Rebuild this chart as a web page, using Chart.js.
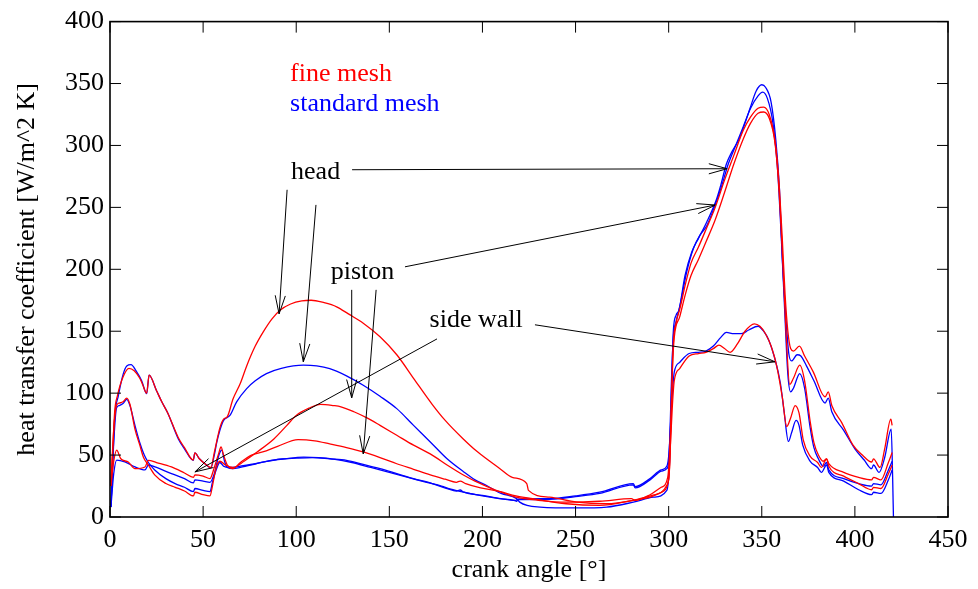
<!DOCTYPE html>
<html>
<head>
    <title>Heat transfer coefficient vs crank angle</title>
    <script src="https://cdn.jsdelivr.net/npm/chart.js"></script>
    <style>
        body { margin: 0; background: #fff; }
    </style>
</head>
<body>
    <canvas id="htcChart" width="978" height="589"></canvas>

    <script>
        // [crank angle, heat transfer coefficient]
        var headFine = [[0.5,25],[1.5,55],[2.5,85],[4,98],[7,113],[10.2,120],[13,118],[16,112],[17.5,107],[19.7,100],[21,114.5],[25,102],[27.8,93],[31,84],[36.7,64],[40,56],[44.7,46],[45.6,51.7],[48,47],[51,43],[54.2,40],[56,52],[57.3,61],[59,72],[61,79],[63,81],[66,95],[70,108],[73.4,122],[78,138],[82.3,149.5],[87,160],[91.3,167],[97,172],[103,174.5],[108,175],[115,173],[121.7,169.7],[128,164],[136,156.5],[145,145.5],[154,131],[163,112],[173,91],[180,78],[189.7,63],[197,53],[209.4,39],[216,32],[223.8,27],[224.7,21.5],[236,16],[250.6,12],[266.7,10.7],[281,13.5],[291.6,17.6],[299,25.6],[300.5,40],[301.5,90],[302.5,140],[304,157],[306,168],[309,188],[312,205],[316,218],[320,232],[325,250],[330,272],[335,292],[340,312],[344,323],[348,330],[351,331],[354,325],[357,305],[359,275],[361,225],[362.5,180],[364,150],[365.5,136],[367,134],[370.2,138],[373,130],[377.7,117],[384,97],[385.7,101],[387.6,90],[393,76],[399,58],[404,50],[409,44.4],[410,47],[413.5,40],[416,55],[419.3,79],[420,74]];
        var headStd = [[0.5,8],[1.5,45],[2.5,80],[4.5,98],[7,115],[9,122],[11.3,123],[14,118],[17,110],[19.7,99.6],[21,114.5],[25,102],[27.8,93],[31,84],[36.7,63],[40,55],[44.7,45.8],[45.6,51.7],[48,47],[51,43],[54.2,39.6],[56,50],[57.3,60],[59,70],[61,78],[64.4,82],[68,93],[73.4,103.7],[78,110],[84,115.8],[92,120],[103.8,122.6],[111,122],[118,119.8],[127,114],[136,106.4],[145,97.5],[154,87.5],[163,74],[172,60.6],[181,47],[190,36.4],[196,30],[202,25.6],[210,19],[218.4,14.8],[220,12],[231,8],[250.6,7.3],[266.7,8],[281,12],[291.8,16],[299,21.5],[300.5,45],[301.5,100],[302.5,150],[304,163],[305.5,167],[308.8,195],[312.4,214],[316,225],[320.4,238],[325.8,257],[328,268],[331,285],[334,295],[338,305.7],[341,318],[343.7,330],[347,344],[350,349],[352,347],[355,335],[357.5,305],[359.5,265],[361,210],[363,160],[364.5,132],[366,126],[369,131],[371,130],[374,122],[378,110],[384,92],[385.7,96],[387.6,85],[394,70],[400,55],[405,46],[409,39],[410,42],[413,36],[416,48],[419.5,71],[420.3,30],[420.7,0]];
        var pistonFine = [[0.5,28],[2,70],[3.5,90],[5,92],[7,93],[9,96],[10.7,91],[13.4,71],[16,58],[18,48],[20.6,42],[24,34],[30,27],[35,24],[40,21],[44.8,17],[45.6,20],[50,18],[53.7,17],[55,25],[57,40],[59,45],[62,42],[66,40],[72,45],[79,52.5],[88,63],[95,74],[100,82],[107,88],[113,91],[120,90],[124,89],[131,85],[138,80],[145,74],[154,66],[163,58],[173,50],[181,42],[190,33.7],[196,29],[201,25.6],[210,20],[218,16],[230,13.5],[245,12],[263,12.7],[280,14.8],[282,13.5],[290,18],[296,24],[299.5,32],[301,70],[302,120],[303,145],[306,162],[309,180],[312,195],[316,208],[320,222],[325,240],[330,262],[335,285],[340,305],[344,318],[348,326],[351,327],[354,322],[357,303],[359,270],[361,215],[363,150],[365,107],[367,112],[370.4,122.6],[373,110],[376,77],[378,60],[380.4,50],[383,45],[384.8,47],[386,43],[394,36],[402,32],[409,30],[410,32],[414,30],[418,44],[420,52]];
        var pistonStd = [[0.5,8],[2,60],[3.5,88],[5,90],[7,91.6],[9,95],[10.7,90],[13.4,74],[16,60],[18.4,50],[20.6,44],[24,38],[30,31],[35,27],[40,24],[44.8,20.5],[45.6,23],[50,21.5],[53.7,20.5],[55,28],[57,38],[59,44],[61,41],[64,40],[70,41],[78,43],[90,46.5],[100,47.5],[109,48],[118,47],[127,45.8],[136,42.5],[145,39],[154,35],[163,31],[173,27],[181,23],[186,21],[188,21.8],[190,20],[200,17.5],[210,14.8],[218,13.5],[219,14.5],[236,14.8],[250,17],[263,20],[281,27],[282,24.5],[290,31],[296,38],[299,41],[300.5,60],[301.5,110],[302.5,145],[304,158],[306,170],[309.7,198],[313.3,216.8],[317,228],[320.4,235],[324,248],[328,265],[332,285],[336,300],[340,315],[344,330],[348,340],[350.5,343],[353,338],[356,318],[358.5,280],[360.5,225],[362.5,160],[364,115],[365.5,101],[367,104],[370.4,115.8],[373,104],[376,72],[378,56],[380.4,47],[383,41],[384.8,44],[386,38],[394,31],[402,27],[409,25],[410,27],[414,26],[418,38],[420,45]];
        var wallFine = [[0.5,25],[2,45],[3.6,54],[5.8,47],[9.8,44.4],[13.4,39],[18.8,40.4],[20.6,45.8],[25,44],[33,40.4],[40,35.5],[44.8,32],[45.6,34],[50,33],[53.7,31],[56,40],[58.5,52],[59.6,56.6],[61,50],[63,42],[66,39],[70,44],[76,50],[82,52.5],[90,57],[101,62.5],[110,61.5],[118,59],[127,56],[136,52.5],[145,48],[154,43],[163,38.5],[172,34],[180,30.5],[186,28],[188,29],[191,27],[199,23.5],[209,20.7],[218,17],[227,14.8],[245,10.7],[263,9.4],[281,13.5],[290,16],[296,20],[300,30],[301,60],[302,90],[303,110],[306,120],[311,130],[316,132],[320,133],[324,136],[327,138.7],[330,136],[333,133],[337,140],[341,150],[346,156],[349,154],[352,148],[355,138],[358,122],[361,97],[363.4,73],[365.5,80],[367.9,90],[370,84],[372.3,62],[376,49],[380,44],[382,40],[384.8,47],[386,41],[394,33],[402,27],[409,22],[410,24],[414,23],[418,35],[420,42]];
        var wallStd = [[0.5,8],[2,35],[3.6,46],[8,44.5],[13.4,40.4],[18.8,38],[20.6,42],[25,40],[33,35],[40,31],[44.8,27.5],[45.6,30],[50,29],[53.7,28],[56,35],[58.5,50],[60,54],[61.5,45],[63,40],[66,39],[70,40],[76,42],[84,45],[94,47],[104,48.3],[112,48],[120,46.8],[130,44],[140,40],[150,36],[160,32],[170,28],[178,25],[183,22.5],[190,20],[200,17],[209,14.8],[217,13.5],[218.4,12.7],[219,14],[236,14.3],[250,16.5],[263,19],[281,26],[282,23.5],[290,30],[296,37],[299,39],[300,45],[301,75],[302,100],[303,117],[306,125],[311,132],[316,133],[320,134],[324,138],[328,145],[331,149],[335,148],[339,148],[343,151],[348,154],[351,150],[354,142],[357,128],[360,108],[362,85],[364.3,61],[366,68],[368.4,78],[370,74],[372,58],[376,45],[380,40],[382,36],[384.8,42],[386,36],[394,29],[402,22],[409,18],[410,20],[414,19],[418,30],[420,38]];

        var xTicks = [0, 50, 100, 150, 200, 250, 300, 350, 400, 450];
        var yTicks = [0, 50, 100, 150, 200, 250, 300, 350, 400];

        // annotation arrows, in data coordinates: [from, to]
        var arrows = [
            [[95.1, 264.2], [90.8, 164]],
            [[110.6, 252], [103.8, 125.3]],
            [[130, 280.4], [331.4, 281.2]],
            [[129.8, 183.4], [129.8, 96.2]],
            [[142.9, 183.4], [136, 50.9]],
            [[158.4, 202], [325, 251.9]],
            [[175.6, 143.8], [45.6, 36.4]],
            [[228.2, 155.2], [357.1, 125.3]]
        ];
        var labels = [
            { text: 'head', x: 110.4, y: 278.8, align: 'center', color: '#000' },
            { text: 'piston', x: 135.6, y: 198, align: 'center', color: '#000' },
            { text: 'side wall', x: 196.6, y: 159.2, align: 'center', color: '#000' },
            { text: 'fine mesh', x: 96.7, y: 357.2, align: 'left', color: '#ff0000' },
            { text: 'standard mesh', x: 96.7, y: 333, align: 'left', color: '#0000ff' }
        ];

        var RED = '#ff0000';
        var BLUE = '#0000ff';
        var FONT = '"Liberation Serif", "Times New Roman", serif';

        function toPoints(arr) {
            return arr.map(function (p) { return { x: p[0], y: p[1] }; });
        }

        function line(ctx, x1, y1, x2, y2) {
            ctx.beginPath();
            ctx.moveTo(x1, y1);
            ctx.lineTo(x2, y2);
            ctx.stroke();
        }

        // gnuplot-like frame, inward ticks on all sides, arrows and labels
        var gnuplotDecor = {
            id: 'gnuplotDecor',
            afterDatasetsDraw: function (chart) {
                var ctx = chart.ctx;
                var a = chart.chartArea;
                var xs = chart.scales.x, ys = chart.scales.y;
                ctx.save();
                ctx.strokeStyle = '#000';

                ctx.lineWidth = 1;
                xTicks.forEach(function (v) {
                    var px = xs.getPixelForValue(v);
                    line(ctx, px, a.bottom, px, a.bottom - 11);
                    line(ctx, px, a.top, px, a.top + 11);
                });
                yTicks.forEach(function (v) {
                    var py = ys.getPixelForValue(v);
                    line(ctx, a.left, py, a.left + 11, py);
                    line(ctx, a.right, py, a.right - 11, py);
                });

                ctx.lineWidth = 1.6;
                ctx.strokeRect(a.left, a.top, a.right - a.left, a.bottom - a.top);

                ctx.lineWidth = 1;
                arrows.forEach(function (ar) {
                    var x1 = xs.getPixelForValue(ar[0][0]), y1 = ys.getPixelForValue(ar[0][1]);
                    var x2 = xs.getPixelForValue(ar[1][0]), y2 = ys.getPixelForValue(ar[1][1]);
                    line(ctx, x1, y1, x2, y2);
                    var ang = Math.atan2(y2 - y1, x2 - x1);
                    var len = 19, spread = 0.27;
                    line(ctx, x2, y2, x2 - len * Math.cos(ang - spread), y2 - len * Math.sin(ang - spread));
                    line(ctx, x2, y2, x2 - len * Math.cos(ang + spread), y2 - len * Math.sin(ang + spread));
                });

                ctx.font = '26px ' + FONT;
                ctx.textBaseline = 'middle';
                labels.forEach(function (l) {
                    ctx.fillStyle = l.color;
                    ctx.textAlign = l.align;
                    ctx.fillText(l.text, xs.getPixelForValue(l.x), ys.getPixelForValue(l.y));
                });
                ctx.restore();
            }
        };

        function series(data, color) {
            return {
                data: toPoints(data),
                borderColor: color,
                borderWidth: 1.3,
                pointRadius: 0,
                fill: false,
                cubicInterpolationMode: 'monotone'
            };
        }

        var ctx = document.getElementById('htcChart').getContext('2d');
        var htcChart = new Chart(ctx, {
            type: 'line',
            data: {
                datasets: [
                    series(headFine, RED),
                    series(pistonFine, RED),
                    series(wallFine, RED),
                    series(headStd, BLUE),
                    series(pistonStd, BLUE),
                    series(wallStd, BLUE)
                ]
            },
            options: {
                responsive: false,
                animation: false,
                devicePixelRatio: 1,
                layout: { padding: { left: 0, right: 30, top: 20, bottom: 0 } },
                plugins: {
                    legend: { display: false },
                    tooltip: { enabled: false }
                },
                scales: {
                    x: {
                        type: 'linear',
                        min: 0,
                        max: 450,
                        afterFit: function (s) { s.height = 72; },
                        afterBuildTicks: function (s) { s.ticks = xTicks.map(function (v) { return { value: v }; }); },
                        grid: { display: false, drawTicks: false },
                        border: { display: false },
                        ticks: {
                            autoSkip: false,
                            maxRotation: 0,
                            padding: 8,
                            color: '#000',
                            font: { family: FONT, size: 26 }
                        },
                        title: {
                            display: true,
                            text: 'crank angle [°]',
                            color: '#000',
                            font: { family: FONT, size: 26 },
                            padding: { top: 0, bottom: 3 }
                        }
                    },
                    y: {
                        min: 0,
                        max: 400,
                        afterFit: function (s) { s.width = 110; },
                        afterBuildTicks: function (s) { s.ticks = yTicks.map(function (v) { return { value: v }; }); },
                        grid: { display: false, drawTicks: false },
                        border: { display: false },
                        ticks: {
                            padding: 6,
                            color: '#000',
                            font: { family: FONT, size: 26 }
                        },
                        title: {
                            display: true,
                            text: 'heat transfer coefficient [W/m^2 K]',
                            color: '#000',
                            font: { family: FONT, size: 26 },
                            padding: { top: 12, bottom: 0 }
                        }
                    }
                }
            },
            plugins: [gnuplotDecor]
        });
    </script>
</body>
</html>
